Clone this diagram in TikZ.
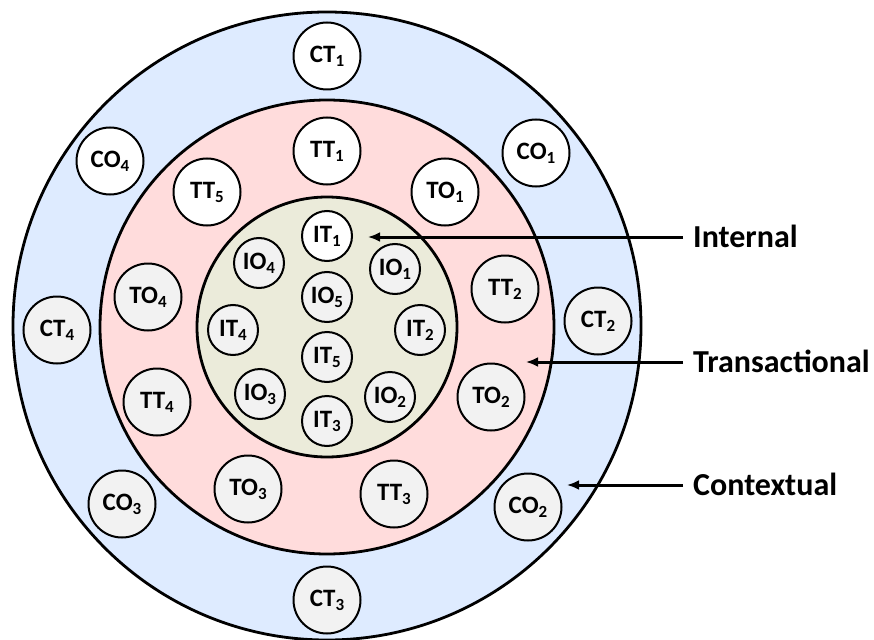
\documentclass[tikz,border=0pt]{standalone}
\usepackage{fontspec}
\setmainfont{Carlito}
\usetikzlibrary{arrows.meta}
\definecolor{ringblue}{HTML}{DEEBFF}
\definecolor{ringpink}{HTML}{FFDCDC}
\definecolor{ringolive}{HTML}{EBEBDA}
\definecolor{nodegray}{HTML}{F2F2F2}
\newcommand{\subs}[1]{\raisebox{-4pt}{\fontsize{17}{17}\selectfont #1}}
\tikzset{
  ring/.style={draw=black, line width=2.8pt},
  bignode/.style={circle, draw=black, line width=2pt, minimum size=67pt, inner sep=0pt, fill=nodegray,
     font=\fontsize{25}{25}\selectfont\bfseries},
  smallnode/.style={bignode, minimum size=50pt},
  whitefill/.style={fill=white},
  lab/.style={anchor=west, inner xsep=10pt, inner ysep=0pt, text height=20.6pt, text depth=0pt,
     font=\fontsize{32}{32}\selectfont\bfseries},
  pointer/.style={line width=3pt, -{Latex[length=12pt,width=10pt]}}
}
\begin{document}
\begin{tikzpicture}[x=1pt,y=-1pt]
\useasboundingbox (0,0) rectangle (874,639);
% rings
\fill[ringblue] (327,326) circle (314pt);
\draw[ring] (327,326) circle (314pt);
\fill[ringpink] (327,327) circle (227pt);
\draw[ring] (327,327) circle (227pt);
\fill[ringolive] (327,327) circle (130pt);
\draw[ring] (327,327) circle (130pt);
% contextual
\node[bignode,whitefill] (CT1) at (327,56) {CT\subs{1}};
\node[bignode,whitefill] (CO1) at (536,153) {CO\subs{1}};
\node[bignode] (CT2) at (598,321) {CT\subs{2}};
\node[bignode] (CO2) at (528,507) {CO\subs{2}};
\node[bignode] (CT3) at (327,600) {CT\subs{3}};
\node[bignode] (CO3) at (122,504) {CO\subs{3}};
\node[bignode] (CT4) at (57,330) {CT\subs{4}};
\node[bignode,whitefill] (CO4) at (110,161) {CO\subs{4}};
% transactional
\node[bignode,whitefill] (TT1) at (327,151) {TT\subs{1}};
\node[bignode,whitefill] (TO1) at (445,192) {TO\subs{1}};
\node[bignode] (TT2) at (505,289) {TT\subs{2}};
\node[bignode] (TO2) at (491,397) {TO\subs{2}};
\node[bignode] (TT3) at (394,494) {TT\subs{3}};
\node[bignode] (TO3) at (248,489) {TO\subs{3}};
\node[bignode] (TT4) at (157,402) {TT\subs{4}};
\node[bignode] (TO4) at (148,297) {TO\subs{4}};
\node[bignode,whitefill] (TT5) at (207,192) {TT\subs{5}};
% internal
\node[smallnode,whitefill] (IT1) at (327,236) {IT\subs{1}};
\node[smallnode] (IO1) at (395,269) {IO\subs{1}};
\node[smallnode] (IT2) at (420,330) {IT\subs{2}};
\node[smallnode] (IO2) at (390,397) {IO\subs{2}};
\node[smallnode] (IT3) at (327,421) {IT\subs{3}};
\node[smallnode] (IO3) at (260,394) {IO\subs{3}};
\node[smallnode] (IT4) at (233,330) {IT\subs{4}};
\node[smallnode] (IO4) at (259,263) {IO\subs{4}};
\node[smallnode] (IO5) at (327,297) {IO\subs{5}};
\node[smallnode] (IT5) at (327,357) {IT\subs{5}};
% labels and pointers
\node[lab] (labI) at (683,237) {Internal};
\node[lab] (labT) at (683,362) {Transactional};
\node[lab] (labC) at (683,485) {Contextual};
\coordinate (tipI) at (368,237);
\coordinate (tipT) at (526,362);
\coordinate (tipC) at (567,485);
\draw[pointer] (labI.west) -- (tipI);
\draw[pointer] (labT.west) -- (tipT);
\draw[pointer] (labC.west) -- (tipC);
\end{tikzpicture}
\end{document}
